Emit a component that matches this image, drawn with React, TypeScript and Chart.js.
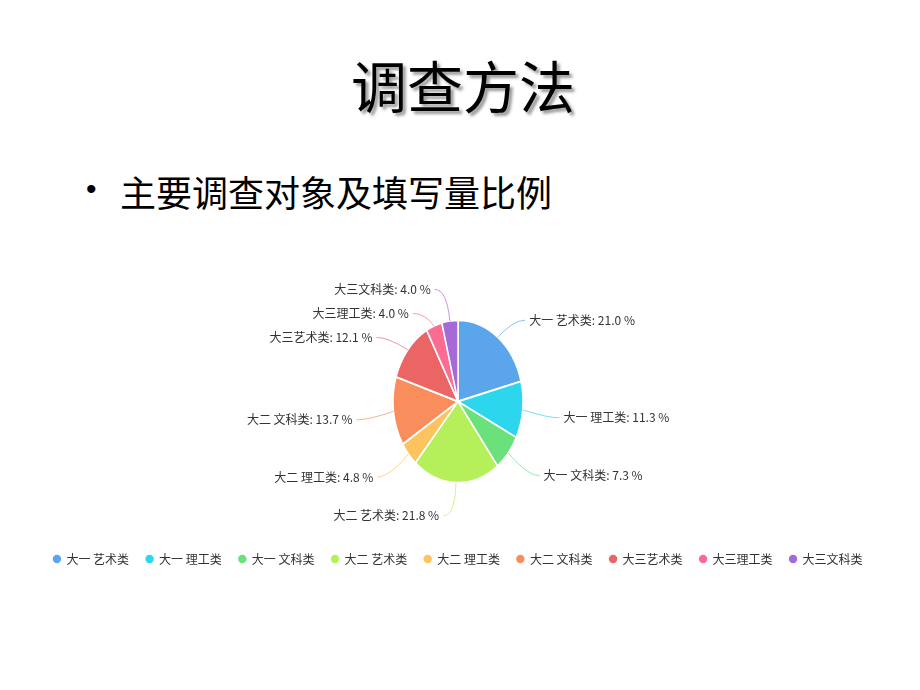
import { useEffect, useRef } from "react";
import Chart from "chart.js/auto";

const categories = [
  "大一 艺术类",
  "大一 理工类",
  "大一 文科类",
  "大二 艺术类",
  "大二 理工类",
  "大二 文科类",
  "大三艺术类",
  "大三理工类",
  "大三文科类",
];
const shares = [21.0, 11.3, 7.3, 21.8, 4.8, 13.7, 12.1, 4.0, 4.0];
const sliceColors = [
  "#5ba6ea",
  "#2cd7ee",
  "#6be17b",
  "#b5ef5a",
  "#fcc35f",
  "#f98d5b",
  "#eb6565",
  "#fa6c93",
  "#a66ad8",
];

const STRETCH_Y = 1.25;
const LEAD_X = 25;
const LEAD_Y = 28;
const DROP = 5;
const TAIL = 12;
const GAP = 24;

// the reference pie is taller than wide, so the arcs get stretched round their centre
const pieLabels = {
  id: "pieLabels",
  beforeDatasetsDraw(chart: any) {
    const arc = chart.getDatasetMeta(0).data[0];
    const { ctx } = chart;
    ctx.save();
    if (arc) {
      ctx.translate(arc.x, arc.y);
      ctx.scale(1, STRETCH_Y);
      ctx.translate(-arc.x, -arc.y);
    }
  },
  afterDatasetsDraw(chart: any) {
    const { ctx } = chart;
    ctx.restore();

    const meta = chart.getDatasetMeta(0);
    const items = meta.data.map((el: any, i: number) => {
      const { x, y, startAngle, endAngle, outerRadius } = el.getProps(
        ["x", "y", "startAngle", "endAngle", "outerRadius"],
        true
      );
      const mid = (startAngle + endAngle) / 2;
      const c = Math.cos(mid);
      const s = Math.sin(mid);
      return {
        i,
        ex: x + outerRadius * c,
        ey: y + outerRadius * STRETCH_Y * s,
        bx: x + (outerRadius + LEAD_X) * c,
        ly: y + (outerRadius * STRETCH_Y + LEAD_Y) * s + DROP,
        side: c >= 0 ? 1 : -1,
      };
    });

    // push neighbouring labels apart on each side
    [1, -1].forEach((side) => {
      const group = items.filter((it: any) => it.side === side).sort((a: any, b: any) => a.ly - b.ly);
      for (let k = 0; k < 30; k++) {
        for (let j = 0; j < group.length - 1; j++) {
          const d = group[j + 1].ly - group[j].ly;
          if (d < GAP) {
            const push = (GAP - d) / 2;
            group[j].ly -= push;
            group[j + 1].ly += push;
          }
        }
      }
    });

    ctx.save();
    ctx.font = "12px 'Noto Sans CJK SC', sans-serif";
    ctx.textBaseline = "middle";
    items.forEach((it: any) => {
      const endX = it.bx + it.side * TAIL;
      ctx.strokeStyle = sliceColors[it.i] + "b0";
      ctx.lineWidth = 1;
      ctx.beginPath();
      ctx.moveTo(it.ex, it.ey);
      ctx.quadraticCurveTo(it.bx, it.ly, endX, it.ly);
      ctx.stroke();
      ctx.fillStyle = "#333";
      ctx.textAlign = it.side > 0 ? "left" : "right";
      const txt = `${categories[it.i]}: ${shares[it.i].toFixed(1)} %`;
      ctx.fillText(txt, endX + it.side * 4, it.ly);
    });
    ctx.restore();
  },
};

function SharePie() {
  const canvasRef = useRef<HTMLCanvasElement>(null);
  const chartRef = useRef<Chart | null>(null);

  useEffect(() => {
    if (!canvasRef.current) return;
    Chart.defaults.font.family = "'Noto Sans CJK SC', sans-serif";
    chartRef.current = new Chart(canvasRef.current, {
      type: "pie",
      data: {
        labels: categories,
        datasets: [
          {
            data: shares,
            backgroundColor: sliceColors,
            borderColor: "#fff",
            borderWidth: 1.5,
            radius: 65,
            clip: false as any,
          },
        ],
      },
      options: {
        animation: false,
        responsive: false,
        layout: { padding: { left: 0, right: 4, top: 5, bottom: 0 } },
        plugins: {
          legend: {
            position: "bottom",
            labels: {
              usePointStyle: true,
              pointStyle: "circle",
              boxWidth: 7,
              boxHeight: 7,
              padding: 17,
              color: "#333",
              font: { size: 12 },
            },
          },
          tooltip: { enabled: false },
        },
      },
      plugins: [pieLabels],
    });
    return () => {
      chartRef.current?.destroy();
      chartRef.current = null;
    };
  }, []);

  return (
    <canvas
      ref={canvasRef}
      width={920}
      height={313}
      style={{ position: "absolute", left: 0, top: 262, width: 920, height: 313 }}
    />
  );
}

export default function App() {
  return (
    <div
      style={{
        position: "fixed",
        left: 0,
        top: 0,
        width: 920,
        height: 690,
        background: "#fff",
        fontFamily: "'Noto Sans CJK SC', sans-serif",
        color: "#000",
      }}
    >
      <div
        style={{
          position: "absolute",
          left: 3,
          top: 56,
          width: 920,
          textAlign: "center",
          fontSize: 56,
          lineHeight: 1,
          textShadow: "3px 3px 3px rgba(0,0,0,0.4)",
        }}
      >
        调查方法
      </div>
      <span
        style={{
          position: "absolute",
          left: 86,
          top: 174,
          fontSize: 30,
          lineHeight: 1,
          fontFamily: "'Liberation Sans', sans-serif",
        }}
      >
        •
      </span>
      <div
        style={{
          position: "absolute",
          left: 120,
          top: 173,
          fontSize: 36,
          lineHeight: 1,
        }}
      >
        主要调查对象及填写量比例
      </div>
      <SharePie />
    </div>
  );
}
